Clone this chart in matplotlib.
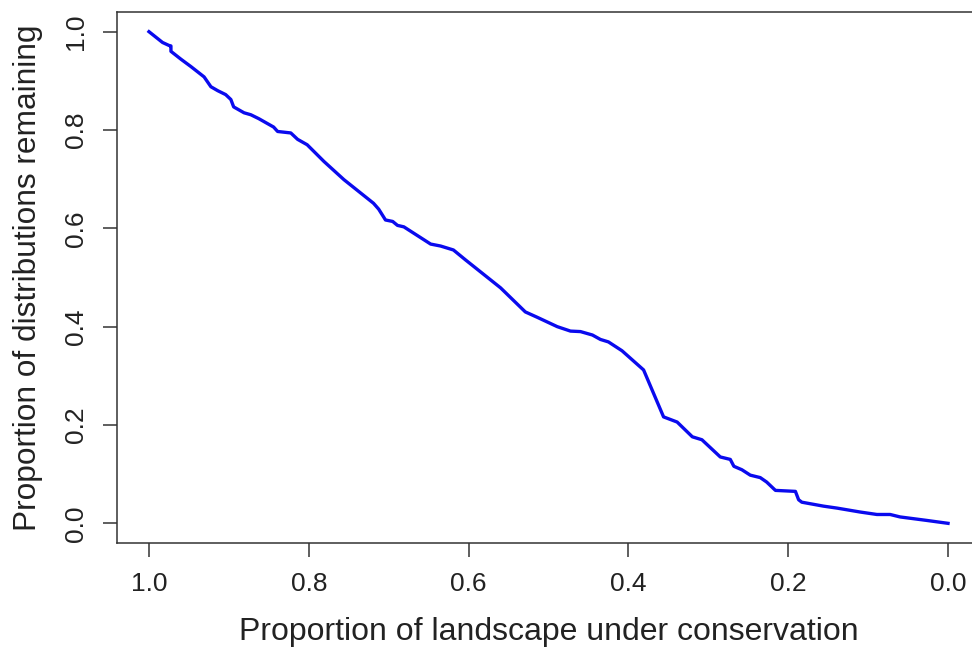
import matplotlib.pyplot as plt
import numpy as np

# proportion of landscape still under conservation (x axis runs from 1 down to 0)
landscape = [1.0, 0.983, 0.975, 0.9725, 0.9725, 0.960, 0.9475, 0.931, 0.9225, 0.914,
             0.904, 0.8975, 0.894, 0.881, 0.8725, 0.8625, 0.844, 0.839, 0.8225, 0.814,
             0.802, 0.781, 0.756, 0.719, 0.7125, 0.704, 0.695, 0.689, 0.681, 0.6475,
             0.635, 0.619, 0.604, 0.56, 0.529, 0.514, 0.489, 0.4725, 0.46, 0.445,
             0.435, 0.425, 0.408, 0.381, 0.356, 0.339, 0.320, 0.308, 0.285, 0.2725,
             0.268, 0.258, 0.2475, 0.235, 0.227, 0.216, 0.191, 0.187, 0.183, 0.156,
             0.139, 0.11, 0.089, 0.0725, 0.06, 0.027, 0.0]
# proportion of species distributions remaining
remaining = [1.0, 0.978, 0.972, 0.971, 0.960, 0.944, 0.929, 0.908, 0.888, 0.880,
             0.872, 0.862, 0.847, 0.835, 0.831, 0.823, 0.806, 0.797, 0.794, 0.781,
             0.770, 0.736, 0.699, 0.651, 0.639, 0.617, 0.614, 0.606, 0.603, 0.568,
             0.564, 0.556, 0.536, 0.479, 0.430, 0.419, 0.400, 0.391, 0.390, 0.383,
             0.374, 0.369, 0.351, 0.312, 0.2165, 0.206, 0.176, 0.170, 0.135, 0.130,
             0.116, 0.109, 0.098, 0.093, 0.084, 0.067, 0.065, 0.048, 0.043, 0.035,
             0.031, 0.023, 0.018, 0.018, 0.013, 0.006, 0.0]

ticks = [1.0, 0.8, 0.6, 0.4, 0.2, 0.0]

plt.rcParams['font.family'] = ['Liberation Sans', 'DejaVu Sans']

fig = plt.figure(figsize=(9.72, 6.48), dpi=100)
# the right edge of the R plot box is cut off in the original picture
ax = fig.add_axes([117 / 972, 1 - 543 / 648, 863 / 972, 531 / 648])

ax.plot(landscape, remaining, color='#0a0aee', lw=2.4, solid_joinstyle='round')

ax.set_xlim(1.04, -0.04)
ax.set_ylim(-0.04, 1.04)
ax.set_xticks(ticks)
ax.set_yticks(ticks)
ax.set_xticklabels(['%.1f' % t for t in ticks])
ax.set_yticklabels(['%.1f' % t for t in ticks], rotation=90, va='center')

for s in ax.spines.values():
    s.set_color('#333333')
    s.set_linewidth(1.1)
ax.tick_params(direction='out', length=10, width=1.1, color='#333333',
               labelsize=19, pad=11, labelcolor='#222222')

ax.set_xlabel('Proportion of landscape under conservation', fontsize=23,
              color='#222222', labelpad=15)
ax.set_ylabel('Proportion of distributions remaining', fontsize=22.8,
              color='#222222', labelpad=15)

fig.savefig('out.png', dpi=100)
